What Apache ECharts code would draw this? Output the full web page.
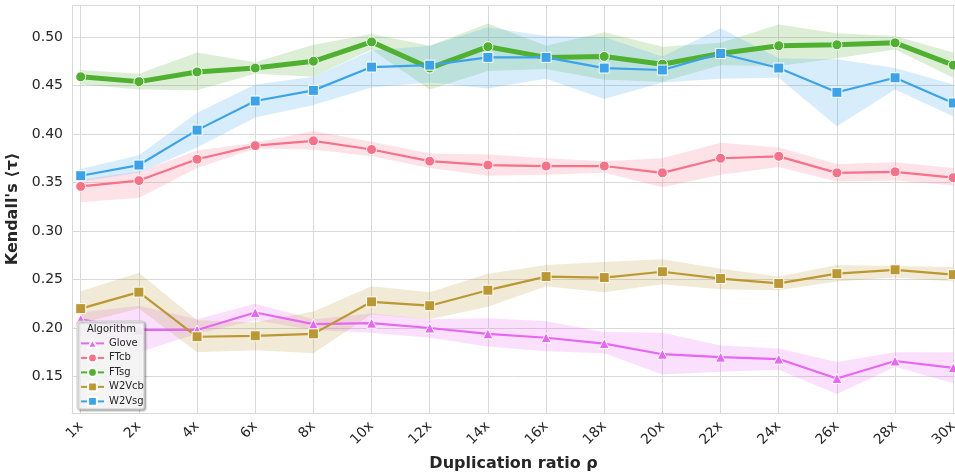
<!DOCTYPE html>
<html>
<head>
<meta charset="utf-8">
<script src="https://cdn.jsdelivr.net/npm/echarts@6/dist/echarts.min.js"></script>
<style>
  html, body { margin: 0; padding: 0; background: #ffffff; }
  #chart { width: 955px; height: 475px; }
</style>
</head>
<body>
<div id="chart"></div>
<script>
// x categories
var ratios = ['1x', '2x', '4x', '6x', '8x', '10x', '12x', '14x', '16x', '18x', '20x', '22x', '24x', '26x', '28x', '30x'];

// mean values
var glove = [0.209, 0.198, 0.198, 0.216, 0.204, 0.205, 0.200, 0.194, 0.190, 0.184, 0.173, 0.170, 0.168, 0.148, 0.166, 0.159];
var ftcb  = [0.346, 0.352, 0.374, 0.388, 0.393, 0.384, 0.372, 0.368, 0.367, 0.367, 0.360, 0.375, 0.377, 0.360, 0.361, 0.355];
var ftsg  = [0.459, 0.454, 0.464, 0.468, 0.475, 0.495, 0.468, 0.490, 0.479, 0.480, 0.472, 0.483, 0.491, 0.492, 0.494, 0.471];
var w2vcb = [0.220, 0.237, 0.191, 0.192, 0.194, 0.227, 0.223, 0.239, 0.253, 0.252, 0.258, 0.251, 0.246, 0.256, 0.260, 0.255];
var w2vsg = [0.357, 0.368, 0.404, 0.434, 0.445, 0.469, 0.471, 0.479, 0.479, 0.468, 0.466, 0.483, 0.468, 0.443, 0.458, 0.432];

// confidence bands (lower / upper)
var gloveLo = [0.192, 0.175, 0.194, 0.208, 0.198, 0.195, 0.190, 0.181, 0.176, 0.174, 0.152, 0.155, 0.157, 0.132, 0.160, 0.143];
var gloveHi = [0.216, 0.223, 0.209, 0.225, 0.209, 0.215, 0.209, 0.210, 0.207, 0.196, 0.195, 0.182, 0.179, 0.165, 0.175, 0.175];
var ftcbLo  = [0.330, 0.334, 0.365, 0.385, 0.384, 0.377, 0.365, 0.357, 0.358, 0.360, 0.345, 0.358, 0.366, 0.351, 0.352, 0.347];
var ftcbHi  = [0.353, 0.361, 0.383, 0.391, 0.403, 0.392, 0.380, 0.379, 0.375, 0.372, 0.375, 0.391, 0.386, 0.369, 0.371, 0.365];
var ftsgLo  = [0.451, 0.446, 0.445, 0.462, 0.459, 0.487, 0.446, 0.465, 0.467, 0.456, 0.454, 0.471, 0.470, 0.478, 0.487, 0.458];
var ftsgHi  = [0.466, 0.462, 0.484, 0.474, 0.492, 0.503, 0.491, 0.514, 0.491, 0.505, 0.490, 0.494, 0.513, 0.504, 0.501, 0.484];
var w2vcbLo = [0.205, 0.220, 0.175, 0.177, 0.174, 0.214, 0.209, 0.222, 0.243, 0.237, 0.245, 0.240, 0.239, 0.248, 0.252, 0.248];
var w2vcbHi = [0.238, 0.257, 0.208, 0.206, 0.217, 0.243, 0.237, 0.256, 0.265, 0.268, 0.271, 0.261, 0.253, 0.265, 0.264, 0.263];
var w2vsgLo = [0.351, 0.360, 0.386, 0.417, 0.430, 0.448, 0.453, 0.447, 0.457, 0.436, 0.453, 0.457, 0.458, 0.408, 0.446, 0.418];
var w2vsgHi = [0.364, 0.378, 0.422, 0.451, 0.459, 0.486, 0.491, 0.510, 0.501, 0.500, 0.480, 0.509, 0.478, 0.477, 0.468, 0.451];

var textColor = '#262626';
var gridColor = '#d9d9d9';
var fontFamily = 'DejaVu Sans';

var myChart = echarts.init(document.getElementById('chart'));

function pairs(arr) {
  return arr.map(function (v, i) { return [i, v]; });
}

// filled band between lo and hi, drawn as one polygon
function band(name, lo, hi, color) {
  return {
    type: 'custom',
    name: name + ' band',
    silent: true,
    clip: true,
    encode: { x: 0, y: [1, 2] },
    data: lo.map(function (v, i) { return [i, v, hi[i]]; }),
    renderItem: function (params, api) {
      if (params.dataIndex !== 0) return;
      var pts = [];
      for (var i = 0; i < hi.length; i++) pts.push(api.coord([i, hi[i]]));
      for (var j = lo.length - 1; j >= 0; j--) pts.push(api.coord([j, lo[j]]));
      return {
        type: 'polygon',
        shape: { points: pts },
        style: { fill: color, opacity: 0.2 }
      };
    }
  };
}

function line(name, data, color, symbol, size, width) {
  return {
    type: 'line',
    name: name,
    data: pairs(data),
    symbol: symbol,
    symbolSize: size,
    showAllSymbol: true,
    lineStyle: { color: color, width: width },
    itemStyle: { color: color, borderColor: '#ffffff', borderWidth: 1 },
    emphasis: { disabled: true }
  };
}

var option = {
  animation: false,
  textStyle: { fontFamily: fontFamily },
  grid: { left: 72, right: 0, top: 5, bottom: 62, containLabel: false, outerBoundsMode: 'none' },
  xAxis: {
    type: 'value',
    min: -0.15,
    max: 15.03,
    splitNumber: 15,
    minInterval: 1,
    maxInterval: 1,
    name: 'Duplication ratio ρ',
    nameLocation: 'middle',
    nameGap: 43,
    nameTextStyle: { fontSize: 16, fontWeight: 'bold', color: textColor, fontFamily: fontFamily },
    axisLine: { show: true, lineStyle: { color: gridColor, width: 1 } },
    axisTick: { show: false },
    splitLine: { show: true, lineStyle: { color: gridColor, width: 1 } },
    axisLabel: {
      rotate: 45,
      margin: 11,
      fontSize: 14,
      color: textColor,
      formatter: function (v) {
        var k = Math.round(v);
        return (Math.abs(v - k) < 1e-6 && k >= 0 && k < ratios.length) ? ratios[k] : '';
      }
    }
  },
  yAxis: {
    type: 'value',
    min: 0.1124,
    max: 0.533,
    splitNumber: 8,
    minInterval: 0.05,
    maxInterval: 0.05,
    name: "Kendall's ⟨τ⟩",
    nameLocation: 'middle',
    nameGap: 41,
    nameTextStyle: { fontSize: 16, fontWeight: 'bold', color: textColor, fontFamily: fontFamily },
    axisLine: { show: true, lineStyle: { color: gridColor, width: 1 } },
    axisTick: { show: false },
    splitLine: { show: true, lineStyle: { color: gridColor, width: 1 } },
    axisLabel: {
      margin: 9,
      fontSize: 14,
      color: textColor,
      formatter: function (v) {
        var q = v / 0.05;
        return Math.abs(q - Math.round(q)) < 1e-6 ? v.toFixed(2) : '';
      }
    }
  },
  legend: {
    data: ['Glove', 'FTcb', 'FTsg', 'W2Vcb', 'W2Vsg'],
    orient: 'vertical',
    left: 75,
    top: 333,
    itemWidth: 23,
    itemHeight: 11,
    itemGap: 3.7,
    z: 6,
    selectedMode: false,
    textStyle: { fontSize: 10, color: textColor, fontFamily: fontFamily }
  },
  graphic: [
    {
      type: 'rect',
      z: 5,
      shape: { x: 77, y: 321, width: 67, height: 88, r: 2 },
      style: {
        fill: 'rgba(255,255,255,0.85)',
        stroke: '#cccccc',
        lineWidth: 1,
        shadowBlur: 2,
        shadowOffsetX: 1.5,
        shadowOffsetY: 1.5,
        shadowColor: 'rgba(0,0,0,0.35)'
      }
    },
    {
      type: 'text',
      z: 7,
      left: 87,
      top: 324,
      style: { text: 'Algorithm', fontSize: 10, fill: textColor, fontFamily: fontFamily }
    }
  ],
  series: [
    band('Glove', gloveLo, gloveHi, '#e866f4'),
    line('Glove', glove, '#e866f4', 'triangle', 10, 2.2),
    band('FTcb', ftcbLo, ftcbHi, '#f77189'),
    line('FTcb', ftcb, '#f77189', 'circle', 10, 2.2),
    band('FTsg', ftsgLo, ftsgHi, '#50b131'),
    line('FTsg', ftsg, '#50b131', 'circle', 10, 5),
    band('W2Vcb', w2vcbLo, w2vcbHi, '#bb9832'),
    line('W2Vcb', w2vcb, '#bb9832', 'rect', 10, 2.2),
    band('W2Vsg', w2vsgLo, w2vsgHi, '#3ba3ec'),
    line('W2Vsg', w2vsg, '#3ba3ec', 'rect', 10, 2.2)
  ]
};

myChart.setOption(option);
</script>
</body>
</html>
